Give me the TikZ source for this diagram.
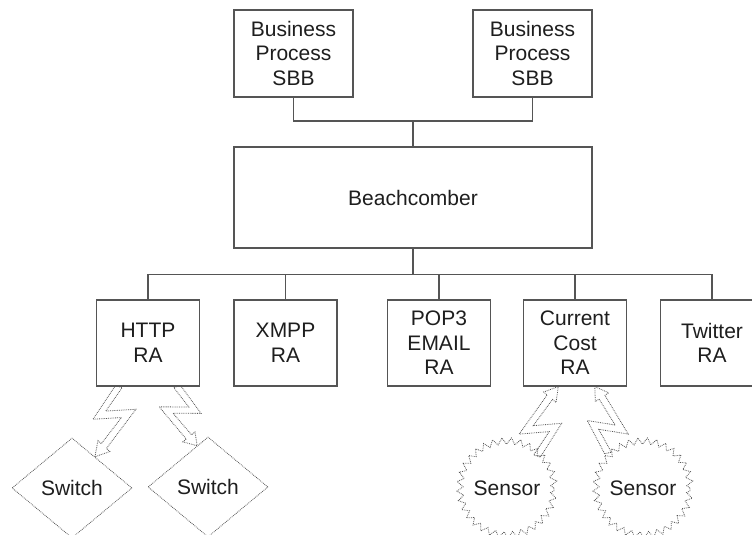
\documentclass[tikz,border=0pt]{standalone}
\usepackage{fontspec}
\setmainfont{Liberation Sans}
\usetikzlibrary{calc,shapes.geometric,decorations.pathmorphing}
\definecolor{edge}{HTML}{555555}
\definecolor{ink}{HTML}{1E1E1E}
\tikzset{
  txt/.style={text=ink, align=center, font=\fontsize{21}{24.5}\selectfont},
  box/.style={txt, draw=edge, line width=1.1pt, inner sep=0pt},
  rabox/.style={box, minimum width=103pt, minimum height=86pt},
  bpbox/.style={box, minimum width=119pt, minimum height=87pt},
  wire/.style={draw=edge, line width=1.1pt},
  boltline/.style={draw=edge, densely dotted, line width=0.8pt},
  switchbox/.style={txt, diamond, draw=edge, densely dotted, line width=0.8pt,
    minimum width=120pt, minimum height=100pt, inner sep=0pt},
  sensorbox/.style={txt, circle, minimum size=96pt, inner sep=0pt},
  burst/.style={boltline, decorate, decoration={zigzag, segment length=9pt, amplitude=3.2pt}},
}
% #1 start, #2 tip, #3 side angle of first kink, #4 opposite angle
\newcommand{\bolt}[4]{%
  \draw[boltline] ($(#1)!3.5pt!#3:(#2)$)
    -- ($(#1)!0.530!(#2)!14pt!#3:(#2)$)
    -- ($(#1)!0.384!(#2)!12.5pt!#4:(#2)$)
    -- ($(#1)!0.806!(#2)!1.8pt!#4:(#2)$)
    -- ($(#1)!0.781!(#2)!2.4pt!#3:(#2)$)
    -- (#2)
    -- ($(#1)!0.869!(#2)!12.4pt!#4:(#2)$)
    -- ($(#1)!0.844!(#2)!8.2pt!#4:(#2)$)
    -- ($(#1)!0.216!(#2)!23.5pt!#4:(#2)$)
    -- ($(#1)!0.370!(#2)!4.5pt!#3:(#2)$)
    -- ($(#1)!3.5pt!#4:(#2)$)
    -- cycle;}
\begin{document}
\begin{tikzpicture}[x=1pt,y=1pt]
\useasboundingbox (0,0) rectangle (752,535);
\fill[white] (0,0) rectangle (752,535);
% top level
\node[bpbox] (bp1) at (293.5,481.5) {Business\\Process\\SBB};
\node[bpbox] (bp2) at (532.5,481.5) {Business\\Process\\SBB};
\node[box, minimum width=358pt, minimum height=101pt] (beach) at (413,337.5) {Beachcomber};
% adapters
\node[rabox] (http) at (148,192) {HTTP\\RA};
\node[rabox] (xmpp) at (285.5,192) {XMPP\\RA};
\node[rabox] (pop) at (439,192) {POP3\\EMAIL\\RA};
\node[rabox] (cc) at (575,192) {Current\\Cost\\RA};
\node[rabox] (tw) at (712,192) {Twitter\\RA};
% junctions
\coordinate (tj) at (413,414);
\coordinate (bj) at (413,260.5);
\draw[wire] (bp1.south) |- (tj) -| (bp2.south);
\draw[wire] (tj) -- (beach.north);
\draw[wire] (beach.south) -- (bj);
\foreach \n in {http,xmpp,pop,cc,tw}{\draw[wire] (\n.north) |- (bj);}
% devices
\node[switchbox] (sw1) at (72,47) {Switch};
\node[switchbox] (sw2) at (208,48) {Switch};
\node[sensorbox] (s1) at (507,47) {Sensor};
\node[sensorbox] (s2) at (643,47) {Sensor};
\draw[burst] (s1.center) circle (47pt);
\draw[burst] (s2.center) circle (47pt);
% bolt ends
\coordinate (b1s) at ($(http.south west)!0.22!(http.south east)$);
\coordinate (b1e) at ($(sw1.north)!0.38!(sw1.east)$);
\coordinate (b2s) at ($(http.south west)!0.78!(http.south east)$);
\coordinate (b2e) at ($(sw2.north)!0.18!(sw2.west)$);
\coordinate (b3s) at ($(s1.center)+(30,32)$);
\coordinate (b3e) at ($(cc.south west)!0.34!(cc.south east)$);
\coordinate (b4s) at ($(s2.center)+(-35,35)$);
\coordinate (b4e) at ($(cc.south west)!0.69!(cc.south east)$);
\bolt{b1s}{b1e}{-90}{90}
\bolt{b2s}{b2e}{90}{-90}
\bolt{b3s}{b3e}{-90}{90}
\bolt{b4s}{b4e}{90}{-90}
\end{tikzpicture}
\end{document}
